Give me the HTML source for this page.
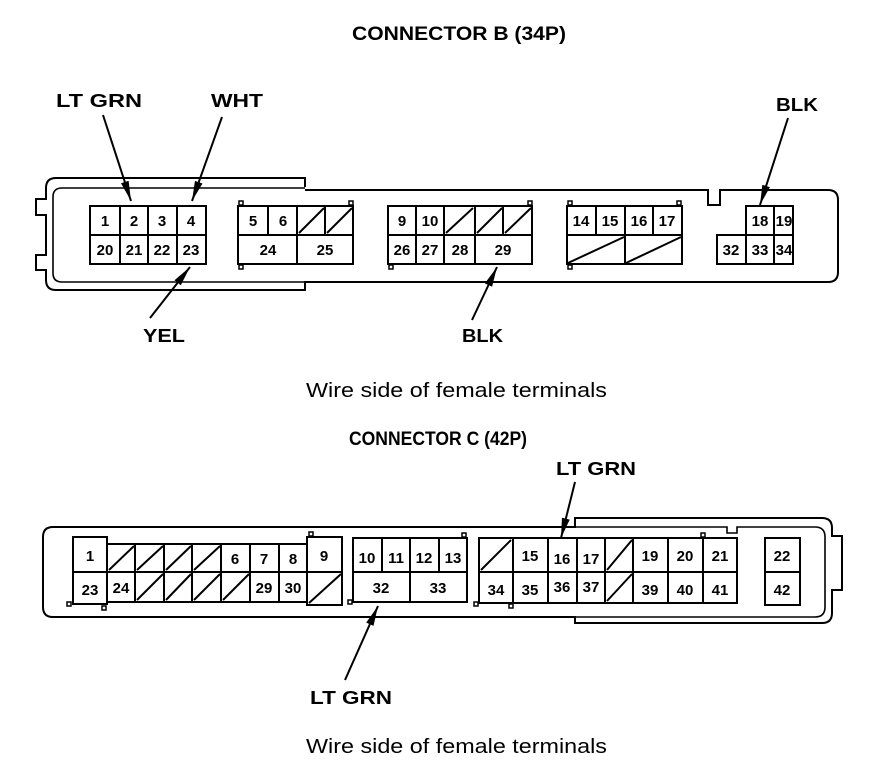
<!DOCTYPE html>
<html><head><meta charset="utf-8"><style>
html,body{margin:0;padding:0;background:#fff}
svg{display:block}
text{font-family:"Liberation Sans",Arial,sans-serif;fill:#000}
.t{font-weight:bold;font-size:19px}
.l{font-weight:bold;font-size:18px}
.w{font-size:20px}
.n{font-size:15px;text-anchor:middle;font-family:"Liberation Sans Narrow","Liberation Sans",Arial,sans-serif;font-weight:bold}
</style></head><body>
<svg width="896" height="776" viewBox="0 0 896 776" xmlns="http://www.w3.org/2000/svg">
<defs>
<marker id="ah" viewBox="0 0 20 10" refX="20" refY="5" markerWidth="20" markerHeight="10" orient="auto" markerUnits="userSpaceOnUse"><path d="M0,1 L20,5 L0,9 z" fill="#000"/></marker></defs>

<text class="t" x="352" y="40" textLength="214" lengthAdjust="spacingAndGlyphs">CONNECTOR B (34P)</text>
<text class="l" x="56" y="107" textLength="86" lengthAdjust="spacingAndGlyphs">LT GRN</text>
<text class="l" x="211" y="107" textLength="52" lengthAdjust="spacingAndGlyphs">WHT</text>
<text class="l" x="776" y="111" textLength="42" lengthAdjust="spacingAndGlyphs">BLK</text>
<text class="l" x="143" y="342" textLength="42" lengthAdjust="spacingAndGlyphs">YEL</text>
<text class="l" x="462" y="342" textLength="41" lengthAdjust="spacingAndGlyphs">BLK</text>
<text class="w" x="306" y="397" textLength="301" lengthAdjust="spacingAndGlyphs">Wire side of female terminals</text>
<text class="t" x="349" y="445" textLength="178" lengthAdjust="spacingAndGlyphs">CONNECTOR C (42P)</text>
<text class="l" x="556" y="475" textLength="80" lengthAdjust="spacingAndGlyphs">LT GRN</text>
<text class="l" x="310" y="704" textLength="82" lengthAdjust="spacingAndGlyphs">LT GRN</text>
<text class="w" x="306" y="753" textLength="301" lengthAdjust="spacingAndGlyphs">Wire side of female terminals</text>

<g fill="none" stroke="#000" stroke-width="2">
<path d="M305,187 L305,178 L56,178 Q46,178 46,188 L46,199 L36,199 L36,215 L46,215 L46,255 L36,255 L36,270 L46,270 L46,280 Q46,290 56,290 L305,290 L305,282 L828,282 Q838,282 838,272 L838,200 Q838,190 828,190 L720,190 L720,205 L708,205 L708,190 L305,190"/>
<path d="M305,188 L62,188 Q53,188 53,197 L53,273 Q53,282 62,282 L305,282" stroke-width="1.6"/>
<rect x="90" y="206" width="116" height="58"/>
<path d="M90,235H206M120,206V264M148,206V264M177,206V264"/>
<rect x="238" y="206" width="115" height="58"/>
<path d="M238,235H353M268,206V235M297,206V264M325,206V235M299,233L324,208M327,233L352,208"/>
<rect x="388" y="206" width="144" height="58"/>
<path d="M388,235H532M416,206V264M444,206V264M475,206V264M503,206V235M446,233L473,208M477,233L502,208M505,233L531,208"/>
<rect x="567" y="206" width="115" height="58"/>
<path d="M567,235H682M596,206V235M625,206V264M653,206V235M568,263L624,237M626,263L681,237"/>
<path d="M746,235V206H793V264H717V235H793M774,206V264M746,235V264"/>
<rect x="239" y="201" width="4" height="4" stroke-width="1.5"/><rect x="349" y="201" width="4" height="4" stroke-width="1.5"/><rect x="239" y="265" width="4" height="4" stroke-width="1.5"/>
<rect x="528" y="201" width="4" height="4" stroke-width="1.5"/><rect x="389" y="265" width="4" height="4" stroke-width="1.5"/>
<rect x="568" y="201" width="4" height="4" stroke-width="1.5"/><rect x="677" y="201" width="4" height="4" stroke-width="1.5"/><rect x="568" y="265" width="4" height="4" stroke-width="1.5"/>

<path d="M575,527 L53,527 Q43,527 43,537 L43,607 Q43,617 53,617 L575,617 L575,623 L822,623 Q832,623 832,613 L832,590 L842,590 L842,536 L832,536 L832,528 Q832,518 822,518 L575,518 Z"/>
<path d="M575,527 L727,527 L727,533 L737,533 L737,527 L815,527 Q825,527 825,537 L825,607 Q825,617 815,617 L575,617" stroke-width="1.6"/>
<rect x="73" y="537" width="34" height="67"/>
<path d="M73,572H107"/>
<rect x="107" y="544" width="200" height="58"/>
<path d="M107,572H307M135,544V602M164,544V602M192,544V602M221,544V602M250,544V602M279,544V602"/>
<path d="M109,570L134,546M137,570L163,546M166,570L191,546M194,570L220,546M137,600L163,574M166,600L191,574M194,600L220,574M223,600L249,574"/>
<rect x="307" y="537" width="35" height="68"/>
<path d="M307,572H342M309,603L341,574"/>
<rect x="353" y="538" width="114" height="64"/>
<path d="M353,572H467M382,538V572M410,538V602M439,538V572"/>
<rect x="479" y="538" width="258" height="65"/>
<path d="M479,572H737M513,538V603M548,538V603M577,538V603M605,538V603M633,538V603M668,538V603M703,538V603"/>
<path d="M481,570L511,540M607,570L632,540M607,601L632,574"/>
<rect x="765" y="538" width="35" height="67"/>
<path d="M765,572H800"/>
<rect x="67" y="602" width="4" height="4" stroke-width="1.5"/><rect x="102" y="606" width="4" height="4" stroke-width="1.5"/>
<rect x="309" y="532" width="4" height="4" stroke-width="1.5"/><rect x="348" y="600" width="4" height="4" stroke-width="1.5"/>
<rect x="462" y="533" width="4" height="4" stroke-width="1.5"/><rect x="474" y="602" width="4" height="4" stroke-width="1.5"/><rect x="509" y="604" width="4" height="4" stroke-width="1.5"/>
<rect x="701" y="533" width="4" height="4" stroke-width="1.5"/>
</g>

<g stroke="#000" stroke-width="2" fill="none">
<line x1="103" y1="115" x2="131" y2="201" marker-end="url(#ah)"/>
<line x1="222" y1="117" x2="192" y2="201" marker-end="url(#ah)"/>
<line x1="788" y1="118" x2="760" y2="205" marker-end="url(#ah)"/>
<line x1="150" y1="318" x2="190" y2="267" marker-end="url(#ah)"/>
<line x1="472" y1="320" x2="497" y2="267" marker-end="url(#ah)"/>
<line x1="575" y1="482" x2="561" y2="538" marker-end="url(#ah)"/>
<line x1="345" y1="680" x2="378" y2="606" marker-end="url(#ah)"/>
</g>

<g>
<text class="n" x="105" y="226">1</text><text class="n" x="134" y="226">2</text><text class="n" x="162" y="226">3</text><text class="n" x="191" y="226">4</text>
<text class="n" x="105" y="255">20</text><text class="n" x="134" y="255">21</text><text class="n" x="162" y="255">22</text><text class="n" x="191" y="255">23</text>
<text class="n" x="253" y="226">5</text><text class="n" x="283" y="226">6</text>
<text class="n" x="268" y="255">24</text><text class="n" x="325" y="255">25</text>
<text class="n" x="402" y="226">9</text><text class="n" x="430" y="226">10</text>
<text class="n" x="402" y="255">26</text><text class="n" x="430" y="255">27</text><text class="n" x="460" y="255">28</text><text class="n" x="503" y="255">29</text>
<text class="n" x="581" y="226">14</text><text class="n" x="610" y="226">15</text><text class="n" x="639" y="226">16</text><text class="n" x="667" y="226">17</text>
<text class="n" x="760" y="226">18</text><text class="n" x="784" y="226">19</text>
<text class="n" x="731" y="255">32</text><text class="n" x="760" y="255">33</text><text class="n" x="784" y="255">34</text>
<text class="n" x="90" y="561">1</text><text class="n" x="90" y="595">23</text>
<text class="n" x="121" y="593">24</text>
<text class="n" x="235" y="564">6</text><text class="n" x="264" y="564">7</text><text class="n" x="293" y="564">8</text>
<text class="n" x="264" y="593">29</text><text class="n" x="293" y="593">30</text>
<text class="n" x="324" y="561">9</text>
<text class="n" x="367" y="563">10</text><text class="n" x="396" y="563">11</text><text class="n" x="424" y="563">12</text><text class="n" x="453" y="563">13</text>
<text class="n" x="381" y="593">32</text><text class="n" x="438" y="593">33</text>
<text class="n" x="530" y="561">15</text><text class="n" x="562" y="564">16</text><text class="n" x="591" y="564">17</text>
<text class="n" x="496" y="595">34</text><text class="n" x="530" y="595">35</text><text class="n" x="562" y="592">36</text><text class="n" x="591" y="592">37</text>
<text class="n" x="650" y="561">19</text><text class="n" x="685" y="561">20</text><text class="n" x="720" y="561">21</text>
<text class="n" x="650" y="595">39</text><text class="n" x="685" y="595">40</text><text class="n" x="720" y="595">41</text>
<text class="n" x="782" y="561">22</text><text class="n" x="782" y="595">42</text>
</g>
</svg>
</body></html>
